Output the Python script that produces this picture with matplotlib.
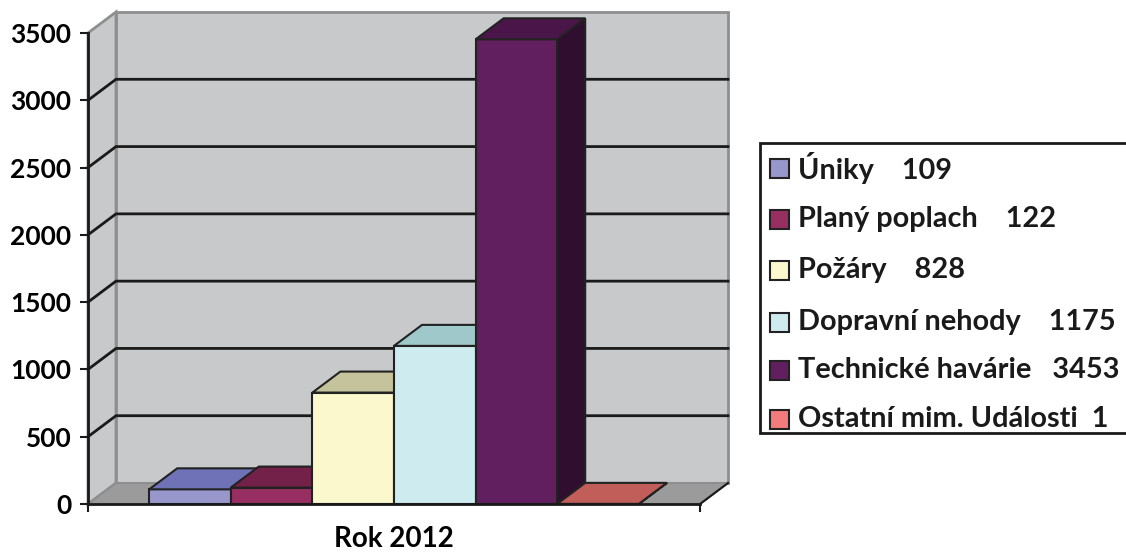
import matplotlib.pyplot as plt
import numpy as np
from matplotlib.patches import Polygon, Rectangle

# ----------------------------------------------------------------------
#  Data
# ----------------------------------------------------------------------
categories = ['Úniky', 'Planý poplach', 'Požáry', 'Dopravní nehody',
              'Technické havárie', 'Ostatní mim. Události']
values = [109, 122, 828, 1175, 3453, 1]
legend_gaps = ['    ', '    ', '    ', '    ', '   ', '  ']
x_label = 'Rok 2012'
y_ticks = np.arange(0, 3501, 500)

front_colors = ['#9797CB', '#982F62', '#FAF8CC', '#CEEBF0', '#621F60', '#F37B7B']
top_colors = ['#6F72B6', '#74214A', '#C5C39B', '#9FC8CA', '#4A1649', '#C25E5A']
side_colors = ['#53558A', '#561836', '#94926F', '#779698', '#2F0E2F', '#8F4542']

plt.rcParams['font.family'] = ['Lato', 'DejaVu Sans']
plt.rcParams['font.weight'] = 'bold'

W, H = 1126, 553
fig = plt.figure(figsize=(W / 100, H / 100), dpi=100)

# front plot rectangle in pixels
px_left, px_right, px_bottom, px_top = 88, 700, 504, 33
ax = fig.add_axes([px_left / W, (H - px_bottom) / H,
                   (px_right - px_left) / W, (px_bottom - px_top) / H])
ymax = 3500
ax.set_xlim(0, 1)
ax.set_ylim(0, ymax)
ax.patch.set_visible(False)

# depth offset (pixels -> data units)
dx = 28 / (px_right - px_left)
dy = 21 / (px_bottom - px_top) * ymax

wall_c = '#C8C9CB'
edge_c = '#8E8E8E'

# walls and floor
side = Polygon([(0, 0), (dx, dy), (dx, ymax + dy), (0, ymax)], closed=True,
               fc=wall_c, ec=edge_c, lw=2, clip_on=False, zorder=1)
back = Polygon([(dx, dy), (1 + dx, dy), (1 + dx, ymax + dy), (dx, ymax + dy)], closed=True,
               fc=wall_c, ec=edge_c, lw=2, clip_on=False, zorder=1)
floor = Polygon([(0, 0), (1, 0), (1 + dx, dy), (dx, dy)], closed=True,
                fc='#9B9B9B', ec=edge_c, lw=1.5, clip_on=False, zorder=1)
for p in (side, back, floor):
	ax.add_patch(p)
ax.plot([1, 1 + dx], [0, dy], color='#1a1a1a', lw=1.5, clip_on=False, zorder=2)

# gridlines
for v in y_ticks[1:-1]:
	ax.plot([0, dx, 1 + dx], [v, v + dy, v + dy], color='#1a1a1a', lw=2,
	        clip_on=False, zorder=2)

# bars (gap width 150%)
n = len(values)
bw = 1 / (n + 1.5)
x0 = 0.75 * bw
for i, v in enumerate(values):
	l = x0 + i * bw
	r = l + bw
	z = 3 + i
	front = Polygon([(l, 0), (r, 0), (r, v), (l, v)], closed=True,
	                fc=front_colors[i], ec='#222222', lw=1.5, clip_on=False, zorder=z)
	top = Polygon([(l, v), (r, v), (r + dx, v + dy), (l + dx, v + dy)], closed=True,
	              fc=top_colors[i], ec='#222222', lw=1.5, clip_on=False, zorder=z)
	rside = Polygon([(r, 0), (r + dx, dy), (r + dx, v + dy), (r, v)], closed=True,
	                fc=side_colors[i], ec='#222222', lw=1.5, clip_on=False, zorder=z)
	ax.add_patch(rside)
	ax.add_patch(front)
	ax.add_patch(top)

# axes
for s in ('top', 'right'):
	ax.spines[s].set_visible(False)
for s in ('left', 'bottom'):
	ax.spines[s].set_color('#1a1a1a')
	ax.spines[s].set_linewidth(2)
	ax.spines[s].set_zorder(20)
ax.set_yticks(y_ticks)
ax.set_yticklabels([str(t) for t in y_ticks])
ax.set_xticks([0, 1])
ax.set_xticklabels(['', ''])
ax.tick_params(axis='both', direction='out', length=6, width=1.5,
               color='#1a1a1a', labelsize=19, pad=6)
ax.set_xlabel(x_label, fontsize=20, fontweight='bold', labelpad=4)

# legend
lg_left, lg_top, lg_bottom = 760, 143, 433
fig.patches.append(Rectangle((lg_left / W, (H - lg_bottom) / H),
                             (W + 20 - lg_left) / W, (lg_bottom - lg_top) / H,
                             transform=fig.transFigure, fc='white', ec='#1a1a1a',
                             lw=2, clip_on=False))
row_y = [168, 219, 270, 322, 370, 419]
for i, name in enumerate(categories):
	yc = row_y[i]
	fig.patches.append(Rectangle((770 / W, (H - yc - 10) / H), 19 / W, 19 / H,
	                             transform=fig.transFigure, fc=front_colors[i],
	                             ec='#222222', lw=1.5))
	fig.text(798 / W, (H - yc) / H, name + legend_gaps[i] + str(values[i]),
	         fontsize=20.8, fontweight='bold', va='center', ha='left', color='#1a1a1a')

fig.savefig('out.png', dpi=100)
